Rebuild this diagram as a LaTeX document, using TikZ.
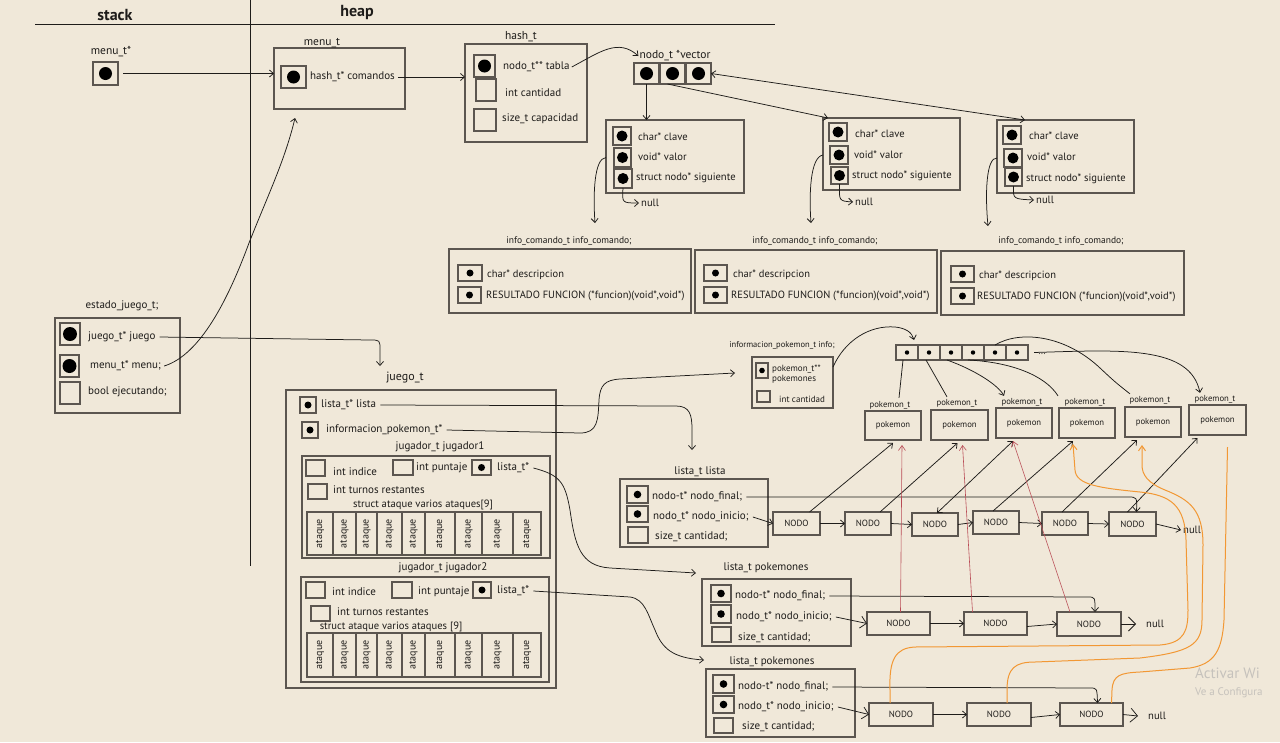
\documentclass[tikz,border=0pt]{standalone}
\usepackage{fontspec}
\setmainfont{PT Sans}
\usetikzlibrary{arrows.meta,calc}
\definecolor{paper}{RGB}{240,232,217}
\definecolor{ink}{RGB}{30,28,26}
\definecolor{edge}{RGB}{92,86,80}
\definecolor{redl}{RGB}{185,75,85}
\definecolor{orng}{RGB}{242,152,52}
\definecolor{wm}{RGB}{198,194,188}
\newcommand\bx[6][]{\node[rect,#1,minimum width={#5pt-#3pt},minimum height={#6pt-#4pt}] (#2) at ({(#3+#5)/2},{(#4+#6)/2}) {};}
\newcommand\bxt[7][]{\node[rect,#1,minimum width={#5pt-#3pt},minimum height={#6pt-#4pt}] (#2) at ({(#3+#5)/2},{(#4+#6)/2}) {#7};}
\newcommand\atq[5]{\node[rect,rotate=90,atk,minimum width={#5pt-#4pt},minimum height={#3pt-#2pt}] (#1) at ({(#2+#3)/2},{(#4+#5)/2}) {ataque};}
\begin{document}
\begin{tikzpicture}[x=1pt,y=-1pt,
 rect/.style={draw=edge,line width=1.3pt,inner sep=0pt,outer sep=0pt},
 blob/.style={path picture={\fill[black] (path picture bounding box.center) circle[radius=#1];}},
 lab/.style={font=\fontsize{11}{12}\selectfont,text=ink,inner sep=0pt},
 labw/.style={lab,anchor=west},
 hd/.style={font=\fontsize{11.5}{12.5}\selectfont,text=ink,inner sep=0pt},
 fld/.style={font=\fontsize{10.6}{12}\selectfont,text=ink,inner sep=0pt,anchor=west},
 icl/.style={font=\fontsize{9.5}{11}\selectfont,text=ink,inner sep=0pt},
 icr/.style={font=\fontsize{10.5}{12}\selectfont,text=ink,inner sep=0pt,anchor=west},
 atk/.style={font=\fontsize{10}{11}\selectfont,text=ink},
 tiny/.style={font=\fontsize{8.7}{9.5}\selectfont,text=ink,inner sep=0pt},
 nod/.style={font=\fontsize{9}{10}\selectfont,text=ink},
 arr/.style={draw=ink,line width=0.75pt,-{Straight Barb[length=4pt,width=7pt]}},
 ln/.style={draw=ink,line width=0.75pt},
 redarr/.style={draw=redl,line width=0.6pt,-{Straight Barb[length=5pt,width=7pt]}},
 orarr/.style={draw=orng,line width=1pt,-{Straight Barb[length=5pt,width=7pt]}},
 orln/.style={draw=orng,line width=1pt},
]
\fill[paper] (0,0) rectangle (1280,742);
\useasboundingbox (0,0) rectangle (1280,742);
% header
\node[font=\bfseries\fontsize{16}{17}\selectfont,text=ink] (stk) at (115,15) {stack};
\node[font=\bfseries\fontsize{16}{17}\selectfont,text=ink] (hp) at (357,12) {heap};
\coordinate (hl) at (35,24); \coordinate (hr) at (775,24);
\draw[ln] (hl) -- (hr);
\coordinate (vt) at (250,0); \coordinate (vb) at (250,566);
\draw[ln] (vt) -- (vb);
% stack pointer and menu
\node[hd] (lsptr) at (111,52) {menu\_t*};
\bx[blob=6.5pt]{sptr}{93}{62}{118}{85}
\bx{menubox}{274}{48}{405}{109}
\node[hd] (lmenu) at (322,43) {menu\_t};
\bx[blob=6.5pt]{mptr}{281}{66}{306}{88}
\node[labw] (tcom) at (310,77) {hash\_t* comandos};
\draw[arr] ([xshift=5pt]sptr.east) -- (sptr.east -| menubox.west);
% hash
\bx{hashbox}{465}{44}{587}{142}
\node[hd] (lhash) at (521,37) {hash\_t};
\draw[arr] ([xshift=3pt]tcom.east) -- (tcom.east -| hashbox.west);
\bx[blob=6.5pt]{hptr}{474}{55}{495}{77}
\node[labw] (ttabla) at (503,67) {nodo\_t** tabla};
\bx{hcant}{476}{79}{496}{101}
\node[labw] (tcant) at (505,93) {int cantidad};
\bx{hcap}{474}{109}{496}{131}
\node[labw] (tcap) at (502,119) {size\_t capacidad};
\node[hd] (lvec) at (675,56) {nodo\_t *vector};
\draw[arr] ([xshift=2pt]ttabla.east) .. controls (600,52) and (618,38) .. ([xshift=-1pt]lvec.west);
\bx[blob=6.5pt]{v1}{634}{63}{659}{84}
\bx[blob=6.5pt]{v2}{660}{63}{685}{84}
\bx[blob=6.5pt]{v3}{686}{63}{711}{84}
% hash nodes
\bx{hn1}{606}{120}{744}{193}
\bx[blob=5.5pt]{h1a}{613}{127}{631}{145} \node[fld] (h1at) at (638,137) {char* clave};
\bx[blob=5.5pt]{h1b}{614}{148}{631}{167} \node[fld] (h1bt) at (638,157) {void* valor};
\bx[blob=5.5pt]{h1c}{614}{169}{632}{188} \node[fld] (h1ct) at (636,178) {struct nodo* siguiente};
\node[fld] (null1) at (641,203) {null};
\draw[arr] (h1c.south) .. controls (622,203) .. ([xshift=-2pt]null1.west);
\bx{hn2}{823}{118}{960}{190}
\bx[blob=5.5pt]{h2a}{829}{123}{847}{141} \node[fld] (h2at) at (855,134) {char* clave};
\bx[blob=5.5pt]{h2b}{830}{146}{848}{164} \node[fld] (h2bt) at (854,155) {void* valor};
\bx[blob=5.5pt]{h2c}{831}{167}{848}{184} \node[fld] (h2ct) at (852,176) {struct nodo* siguiente};
\node[fld] (null2) at (855,202) {null};
\draw[arr] (h2c.south) .. controls (839,201) .. ([xshift=-2pt]null2.west);
\bx{hn3}{997}{120}{1134}{193}
\bx[blob=5.5pt]{h3a}{1003}{126}{1021}{144} \node[fld] (h3at) at (1029,136) {char* clave};
\bx[blob=5.5pt]{h3b}{1004}{149}{1022}{167} \node[fld] (h3bt) at (1027,157) {void* valor};
\bx[blob=5.5pt]{h3c}{1005}{168}{1022}{186} \node[fld] (h3ct) at (1026,179) {struct nodo* siguiente};
\node[fld] (null3) at (1036,200) {null};
\draw[arr] (h3c.south) .. controls (1013,199) .. ([xshift=-2pt]null3.west);
\draw[arr] (v1.south) -- (v1.south |- hn1.north);
\draw[arr] ([xshift=-5pt]v2.south) -- ([xshift=5pt]hn2.north west);
\draw[arr,{Straight Barb[length=4pt,width=7pt]}-{Straight Barb[length=4pt,width=7pt]}] (v3.east) -- ([xshift=28pt]hn3.north west);
% info_comando
\coordinate (ic1in) at (595,223); \coordinate (ic2in) at (811,223); \coordinate (ic3in) at (988,226);
\draw[arr] (hn1.west |- h1b.center) .. controls (594,158) and (593,195) .. (ic1in);
\draw[arr] (hn2.west |- h2b.center) .. controls (810,157) and (809,195) .. (ic2in);
\draw[arr] (hn3.west |- h3b.center) .. controls (986,157) and (985,195) .. (ic3in);
\node[icl] (lic1) at (569,241) {info\_comando\_t info\_comando;};
\bx{ic1}{449}{249}{691}{313}
\bx[blob=3.5pt]{ic1a}{458}{265}{482}{281} \node[icr] (ic1at) at (487,275) {char* descripcion};
\bx[blob=3.5pt]{ic1b}{458}{287}{481}{303} \node[icr] (ic1bt) at (486,296) {RESULTADO FUNCION (*funcion)(void*,void*)};
\node[icl] (lic2) at (815,241) {info\_comando\_t info\_comando;};
\bx{ic2}{695}{250}{937}{313}
\bx[blob=3.5pt]{ic2a}{704}{265}{727}{281} \node[icr] (ic2at) at (733,275) {char* descripcion};
\bx[blob=3.5pt]{ic2b}{704}{287}{727}{303} \node[icr] (ic2bt) at (731,296) {RESULTADO FUNCION (*funcion)(void*,void*)};
\node[icl] (lic3) at (1061,241) {info\_comando\_t info\_comando;};
\bx{ic3}{941}{251}{1184}{315}
\bx[blob=3.5pt]{ic3a}{951}{266}{974}{282} \node[icr] (ic3at) at (979,276) {char* descripcion};
\bx[blob=3.5pt]{ic3b}{951}{288}{974}{304} \node[icr] (ic3bt) at (977,297) {RESULTADO FUNCION (*funcion)(void*,void*)};
% estado_juego
\node[lab] (lest) at (122,306) {estado\_juego\_t;};
\bx{est}{55}{318}{180}{413}
\bx[blob=7pt]{e1}{60}{323}{80}{345} \node[labw] (e1t) at (88,337) {juego\_t* juego};
\bx[blob=7pt]{e2}{60}{355}{79}{377} \node[labw] (e2t) at (90,366) {menu\_t* menu;};
\bx{e3}{60}{382}{80}{404} \node[labw] (e3t) at (88,392) {bool ejecutando;};
\coordinate (mbin) at (295,118);
\draw[arr] ([xshift=3pt]e2t.east) .. controls (200,355) and (228,300) .. (249,243) .. controls (268,195) and (285,160) .. (mbin);
\coordinate (jin) at (380,366);
\draw[arr] ([xshift=4pt]e1t.east) -- (370,340) .. controls (380,340) .. (380,350) -- (jin);
% juego_t
\node[font=\fontsize{12}{13}\selectfont,text=ink,inner sep=0pt] (ljuego) at (405,378) {juego\_t};
\bx{jbox}{286}{390}{556}{688}
\bx[blob=3.5pt]{jl}{300}{397}{316}{413} \node[labw] (jlt) at (321,405) {lista\_t* lista};
\bx[blob=3.5pt]{ji}{302}{422}{318}{438} \node[labw] (jit) at (326,430) {informacion\_pokemon\_t*};
\coordinate (l1in) at (692,450); \coordinate (infin) at (735,373);
\draw[arr] ([xshift=4pt]jlt.east) -- (676,406) .. controls (690,406) and (692,415) .. (692,430) -- (l1in);
\draw[arr] ([xshift=4pt]jit.east) -- (580,433) .. controls (598,433) and (598,420) .. (599,400) .. controls (600,385) and (605,380) .. (620,379) -- (infin);
% jugador1
\node[lab] (lj1) at (440,447) {jugador\_t jugador1};
\bx{j1}{302}{456}{550}{558}
\bx{j1i}{306}{460}{325}{476} \node[labw] (j1it) at (333,472) {int indice};
\bx{j1p}{393}{460}{413}{475} \node[labw] (j1pt) at (416,468) {int puntaje};
\bx[blob=3.5pt]{j1l}{472}{460}{491}{475} \node[labw] (j1lt) at (497,468) {lista\_t*};
\bx{j1r}{308}{484}{327}{499} \node[labw] (j1rt) at (333,490) {int turnos restantes};
\node[font=\fontsize{10.6}{12}\selectfont,text=ink,inner sep=0pt] (j1s) at (423,505) {struct ataque varios ataques[9]};
\atq{a11}{307}{333}{512}{555} \atq{a12}{333}{356}{512}{555} \atq{a13}{356}{377}{512}{555}
\atq{a14}{377}{402}{512}{555} \atq{a15}{402}{425}{512}{555} \atq{a16}{425}{455}{512}{555}
\atq{a17}{455}{482}{512}{555} \atq{a18}{482}{513}{512}{555} \atq{a19}{513}{541}{512}{555}
% jugador2
\node[lab] (lj2) at (443,568) {jugador\_t jugador2};
\bx{j2}{301}{577}{549}{682}
\bx{j2i}{306}{582}{325}{598} \node[labw] (j2it) at (332,592) {int indice};
\bx{j2p}{392}{582}{412}{598} \node[labw] (j2pt) at (418,592) {int puntaje};
\bx[blob=3.5pt]{j2l}{473}{582}{491}{598} \node[labw] (j2lt) at (497,591) {lista\_t*};
\bx{j2r}{311}{606}{330}{621} \node[labw] (j2rt) at (337,612) {int turnos restantes};
\node[font=\fontsize{10.6}{12}\selectfont,text=ink,inner sep=0pt] (j2s) at (391,627) {struct ataque varios ataques [9]};
\atq{a21}{307}{333}{633}{677} \atq{a22}{333}{356}{633}{677} \atq{a23}{356}{377}{633}{677}
\atq{a24}{377}{402}{633}{677} \atq{a25}{402}{425}{633}{677} \atq{a26}{425}{455}{633}{677}
\atq{a27}{455}{482}{633}{677} \atq{a28}{482}{513}{633}{677} \atq{a29}{513}{541}{633}{677}
\coordinate (l2in) at (696,573); \coordinate (l3in) at (704,660);
\draw[arr] ([xshift=4pt]j1lt.east) .. controls (560,475) and (565,482) .. (570,510) .. controls (575,545) and (580,566) .. (610,568) -- (l2in);
\draw[arr] ([xshift=4pt]j2lt.east) -- (630,597) .. controls (645,599) and (648,615) .. (655,630) .. controls (662,648) and (672,658) .. (l3in);
% informacion_pokemon
\node[font=\fontsize{8.5}{9.5}\selectfont,text=ink,inner sep=0pt] (linfo) at (782,345) {informacion\_pokemon\_t info;};
\bx{ibox}{752}{357}{833}{408}
\bx[blob=2.8pt]{ip}{756}{363}{768}{378}
\node[font=\fontsize{9}{10}\selectfont,text=ink,inner sep=0pt,anchor=north west,align=left] (ipt) at (772,365) {pokemon\_t**\\pokemones};
\bx{icn}{757}{391}{770}{402}
\node[font=\fontsize{9}{10}\selectfont,text=ink,inner sep=0pt,anchor=west] (icnt) at (779,399) {int cantidad};
\coordinate (arrin) at (914,340);
\draw[arr] ([yshift=-10pt]ibox.north east) .. controls (845,340) and (870,325) .. (895,327) .. controls (905,328) and (912,332) .. (arrin);
% pokemon array
\bx[blob=2.2pt]{a1}{896}{345}{918}{360}
\bx[blob=2.2pt]{a2}{918}{345}{940}{360}
\bx[blob=2.2pt]{a3}{940}{345}{962}{360}
\bx[blob=2.2pt]{a4}{962}{345}{984}{360}
\bx[blob=2.2pt]{a5}{984}{345}{1006}{360}
\bx[blob=2.2pt]{a6}{1006}{345}{1028}{360}
\node[tiny] (adots) at (1042,354) {...};
% pokemon boxes
\node[tiny] (lp1) at (890,405) {pokemon\_t}; \bxt[tiny]{p1}{865}{411}{921}{440}{pokemon}
\node[tiny] (lp2) at (957,403) {pokemon\_t}; \bxt[tiny]{p2}{931}{410}{988}{440}{pokemon}
\node[tiny] (lp3) at (1022,402) {pokemon\_t}; \bxt[tiny]{p3}{996}{408}{1052}{438}{pokemon}
\node[tiny] (lp4) at (1085,402) {pokemon\_t}; \bxt[tiny]{p4}{1059}{408}{1115}{438}{pokemon}
\node[tiny] (lp5) at (1150,400) {pokemon\_t}; \bxt[tiny]{p5}{1125}{407}{1181}{437}{pokemon}
\node[tiny] (lp6) at (1215,399) {pokemon\_t}; \bxt[tiny]{p6}{1189}{405}{1246}{435}{pokemon}
\draw[ln] ([xshift=-4pt]a1.south) -- ([xshift=9pt,yshift=3pt]lp1.north);
\draw[ln] ([xshift=-3pt]a2.south) -- ([xshift=-10pt,yshift=2pt]lp2.north);
\draw[arr] ([xshift=-4pt]a3.south) .. controls (975,370) and (998,385) .. ([xshift=-18pt,yshift=2pt]lp3.north);
\draw[ln] ([xshift=-5pt]a4.south) .. controls (1010,362) and (1045,375) .. ([xshift=-27pt,yshift=2pt]lp4.north);
\draw[ln] (a5.north) .. controls (1020,330) and (1065,335) .. (1100,368) .. controls (1115,382) .. ([xshift=-20pt,yshift=2pt]lp5.north);
\draw[arr] ([xshift=6pt]a6.east) .. controls (1120,350) and (1190,345) .. ([xshift=-15pt,yshift=2pt]lp6.north);
% lista_t lista
\node[lab] (ll1) at (700,472) {lista\_t lista};
\bx{l1}{620}{479}{768}{547}
\bx[blob=3.8pt]{l1a}{627}{486}{648}{503} \node[labw] (l1at) at (652,497) {nodo-t* nodo\_final;};
\bx[blob=3.8pt]{l1b}{627}{506}{648}{522} \node[labw] (l1bt) at (653,517) {nodo\_t* nodo\_inicio;};
\bx{l1c}{628}{527}{648}{543} \node[labw] (l1ct) at (655,537) {size\_t cantidad;};
\bxt[nod]{n1}{773}{512}{820}{535}{NODO}
\bxt[nod]{n2}{845}{512}{891}{535}{NODO}
\bxt[nod]{n3}{912}{513}{958}{536}{NODO}
\bxt[nod]{n4}{973}{511}{1019}{534}{NODO}
\bxt[nod]{n5}{1042}{512}{1088}{535}{NODO}
\bxt[nod]{n6}{1109}{512}{1156}{536}{NODO}
\node[fld] (nl1) at (1183,530) {null};
\draw[arr] (n1.east) -- (n2.west);
\draw[arr] (n2.east) -- (n3.west);
\draw[arr] (n3.east) -- (n4.west);
\draw[arr] (n4.east) -- (n5.west);
\draw[arr] (n5.east) -- (n6.west);
\draw[arr] (n6.east) -- ([xshift=-2pt]nl1.west);
\draw[arr] ([xshift=4pt]l1at.east) -- (1128,497) .. controls (1137,497) .. ([xshift=4pt]n6.north);
\draw[arr] ([xshift=4pt]l1bt.east) -- (n1.west);
\draw[arr] ([xshift=13pt]n1.north) -- ([yshift=-3pt]p1.south);
\draw[arr] ([xshift=12pt]n2.north) -- ([xshift=-2pt,yshift=-3pt]p2.south);
\draw[arr,{Straight Barb[length=4pt,width=7pt]}-{Straight Barb[length=4pt,width=7pt]}] ([xshift=2pt]n3.north) -- ([xshift=-11pt,yshift=-3pt]p3.south);
\draw[arr] ([xshift=-3pt]n4.north) -- ([xshift=-14pt,yshift=-3pt]p4.south);
\draw[arr] ([xshift=-3pt]n5.north) -- ([xshift=-16pt,yshift=-3pt]p5.south);
\draw[arr] ([xshift=-5pt]n6.north) -- ([xshift=-20pt,yshift=-3pt]p6.south);
% lista_t pokemones (1)
\node[lab] (ll2) at (766,568) {lista\_t pokemones};
\bx{l2}{702}{579}{851}{646}
\bx[blob=3.8pt]{l2a}{711}{585}{731}{602} \node[labw] (l2at) at (735,596) {nodo-t* nodo\_final;};
\bx[blob=3.8pt]{l2b}{711}{605}{731}{623} \node[labw] (l2bt) at (736,617) {nodo\_t* nodo\_inicio;};
\bx{l2c}{712}{627}{731}{642} \node[labw] (l2ct) at (738,638) {size\_t cantidad;};
\bxt[nod]{m1}{867}{612}{930}{635}{NODO}
\bxt[nod]{m2}{964}{612}{1027}{635}{NODO}
\bxt[nod]{m3}{1057}{612}{1121}{636}{NODO}
\node[fld] (nl2) at (1146,624) {null};
\draw[arr] (m1.east) -- (m2.west);
\draw[arr] ([yshift=-3pt]m2.east) -- (m3.west);
\draw[arr,-{Straight Barb[length=7pt,width=14pt]}] (m3.east) -- ([xshift=-10pt]nl2.west);
\draw[arr] ([xshift=4pt]l2at.east) -- (1088,597) .. controls (1095,597) .. ([xshift=6pt]m3.north);
\draw[arr,-{Straight Barb[length=6pt,width=12pt]}] ([xshift=4pt]l2bt.east) -- (m1.west);
\draw[redarr] ([xshift=2pt]m1.north) -- ([xshift=9pt,yshift=-5pt]p1.south);
\draw[redarr] ([xshift=-23pt]m2.north) -- ([xshift=3pt,yshift=-5pt]p2.south);
\draw[redarr] ([xshift=-19pt]m3.north) -- ([xshift=-11pt,yshift=-3pt]p3.south);
% lista_t pokemones (2)
\node[lab] (ll3) at (772,662) {lista\_t pokemones};
\bx{l3}{706}{669}{855}{737}
\bx[blob=3.8pt]{l3a}{713}{675}{734}{693} \node[labw] (l3at) at (738,687) {nodo-t* nodo\_final;};
\bx[blob=3.8pt]{l3b}{713}{696}{734}{713} \node[labw] (l3bt) at (738,707) {nodo\_t* nodo\_inicio;};
\bx{l3c}{714}{718}{733}{733} \node[labw] (l3ct) at (742,727) {size\_t cantidad;};
\bxt[nod]{q1}{869}{703}{933}{726}{NODO}
\bxt[nod]{q2}{967}{703}{1031}{726}{NODO}
\bxt[nod]{q3}{1060}{703}{1123}{726}{NODO}
\node[fld] (nl3) at (1148,716) {null};
\draw[arr] (q1.east) -- (q2.west);
\draw[arr] ([yshift=-3pt]q2.east) -- (q3.west);
\draw[arr,-{Straight Barb[length=7pt,width=14pt]}] (q3.east) -- ([xshift=-10pt]nl3.west);
\draw[arr] ([xshift=4pt]l3at.east) -- (1090,688) .. controls (1097,688) .. ([xshift=6pt]q3.north);
\draw[arr,-{Straight Barb[length=6pt,width=12pt]}] ([xshift=4pt]l3bt.east) -- (q1.west);
% orange
\draw[orarr] ([xshift=-11pt]q1.north) -- (890,690) .. controls (889,660) and (895,648) .. (915,647) -- (1160,645) .. controls (1185,643) and (1188,630) .. (1188,610) -- (1186,540) .. controls (1185,505) and (1170,495) .. (1140,492) .. controls (1100,488) and (1076,485) .. (1075,470) -- ([xshift=-14pt,yshift=-6pt]p4.south);
\draw[orarr] ([xshift=8pt]q2.north) -- (1007,690) .. controls (1007,668) and (1015,662) .. (1035,662) -- (1140,658) .. controls (1190,652) and (1202,645) .. (1202,620) -- (1203,545) .. controls (1203,510) and (1190,500) .. (1165,490) .. controls (1148,483) and (1142,475) .. (1142,465) -- ([xshift=-11pt,yshift=-8pt]p5.south);
\draw[orln] ([xshift=20pt]q3.north) -- (1112,690) .. controls (1113,675) and (1120,673) .. (1140,672) -- (1190,668) .. controls (1215,664) and (1222,650) .. (1224,620) -- ([xshift=10pt,yshift=-12pt]p6.south);
% watermark
\node[anchor=west,text=wm,font=\fontsize{15}{16}\selectfont,inner sep=0pt] (wm1) at (1195,673) {Activar Wi};
\node[anchor=west,text=wm,font=\fontsize{11}{12}\selectfont,inner sep=0pt] (wm2) at (1195,693) {Ve a Configura};
\end{tikzpicture}
\end{document}
